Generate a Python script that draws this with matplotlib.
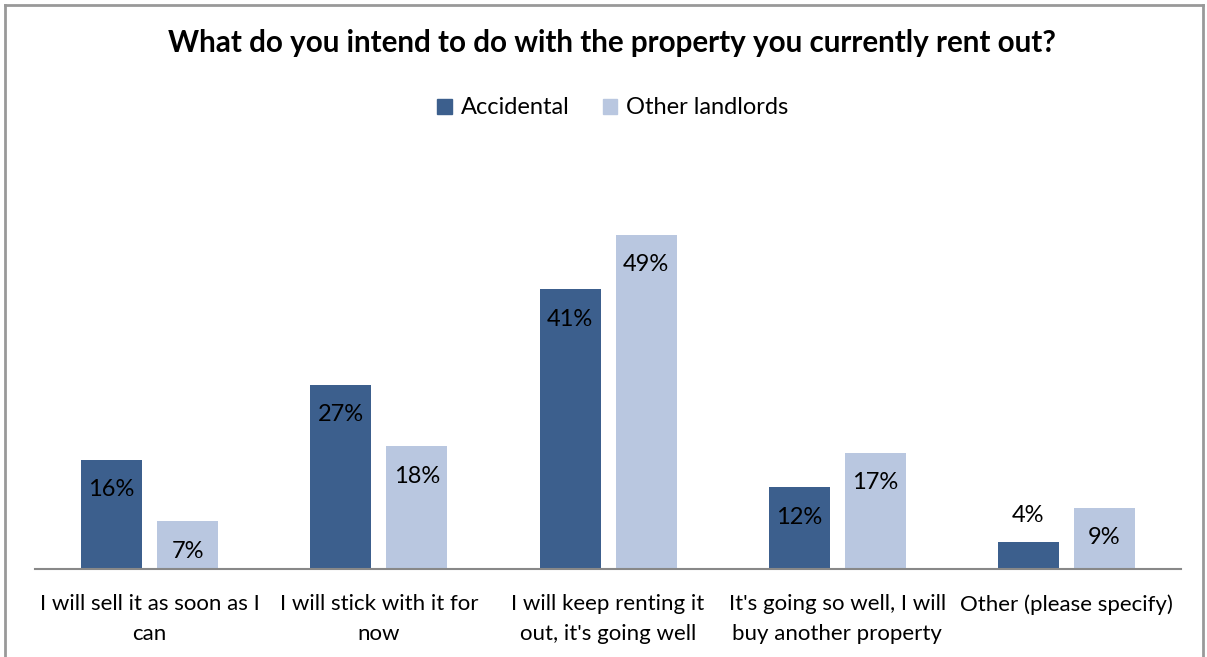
import matplotlib
matplotlib.use("Agg")
import matplotlib.pyplot as plt
import numpy as np
from matplotlib.lines import Line2D

categories = [
    "I will sell it as soon as I\ncan",
    "I will stick with it for\nnow",
    "I will keep renting it\nout, it's going well",
    "It's going so well, I will\nbuy another property",
    "Other (please specify)",
]
accidental = [16, 27, 41, 12, 4]
other_landlords = [7, 18, 49, 17, 9]
series_names = ["Accidental", "Other landlords"]
title = "What do you intend to do with the property you currently rent out?"

dark = "#3C5F8D"
light = "#B9C7E0"
font = "Lato"

fig = plt.figure(figsize=(12.07, 6.57), dpi=100)
W, H = 1207, 657
ax = fig.add_axes([35 / W, 1 - 569 / H, (1181 - 35) / W, (569 - 180) / H])

x = np.arange(len(categories))
bw = 61 / 229.2
off = 38 / 229.2
b1 = ax.bar(x - off, accidental, bw, color=dark, label=series_names[0])
b2 = ax.bar(x + off, other_landlords, bw, color=light, label=series_names[1])

ax.set_xlim(-0.5, len(categories) - 0.5)
ax.set_ylim(0, 57)
for s in ["top", "right", "left"]:
    ax.spines[s].set_visible(False)
ax.spines["bottom"].set_color("#888888")
ax.spines["bottom"].set_linewidth(1.5)
ax.set_yticks([])
ax.set_xticks(x)
ax.set_xticklabels(categories, fontsize=16, family=font, linespacing=1.65)
ax.tick_params(axis="x", length=0, pad=18)

for bars, vals in ((b1, accidental), (b2, other_landlords)):
    for rect, v in zip(bars, vals):
        cx = rect.get_x() + rect.get_width() / 2
        dy = -30 if v >= 6 else 26
        ax.annotate(f"{v}%", (cx, v), xytext=(0, dy), textcoords="offset pixels",
                    ha="center", va="center", fontsize=17, family=font, color="black")

fig.text(612 / W, 1 - 43 / H, title, ha="center", va="center",
         fontsize=21.3, fontweight="bold", family=font)

handles = [plt.Rectangle((0, 0), 1, 1, color=dark), plt.Rectangle((0, 0), 1, 1, color=light)]
fig.legend(handles, series_names, loc="center", bbox_to_anchor=(613 / W, 1 - 108 / H),
           ncol=2, frameon=False, prop={"family": font, "size": 17},
           handlelength=0.6, handleheight=0.6, handletextpad=0.4, columnspacing=1.4)

# chart frame
frame_kw = dict(color="#999999", linewidth=2, transform=fig.transFigure)
fig.add_artist(Line2D([5 / W, 1203 / W], [1 - 5 / H, 1 - 5 / H], **frame_kw))
fig.add_artist(Line2D([5 / W, 5 / W], [1 - 5 / H, 0], **frame_kw))
fig.add_artist(Line2D([1203 / W, 1203 / W], [1 - 5 / H, 0], **frame_kw))

fig.savefig("out.png", dpi=100)
